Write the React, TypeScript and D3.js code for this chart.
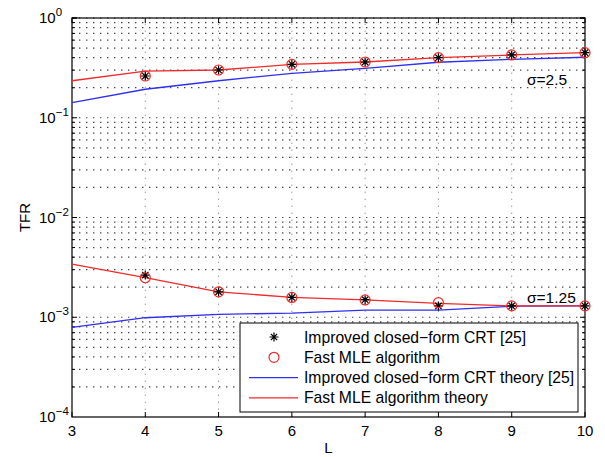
import React, { useEffect, useRef } from 'react';
import * as d3 from 'd3';

// L values for theory curves and for simulated points
const theoryL = [3, 4, 5, 6, 7, 8, 9, 10];
const simL = [4, 5, 6, 7, 8, 9, 10];

// sigma = 2.5
const mleTheoryHi = [0.235, 0.294, 0.301, 0.343, 0.362, 0.4, 0.426, 0.449];
const crtTheoryHi = [0.1415, 0.193, 0.235, 0.279, 0.313, 0.36, 0.385, 0.404];
const crtSimHi = [0.262, 0.301, 0.343, 0.362, 0.4, 0.426, 0.449];
const mleSimHi = [0.262, 0.301, 0.343, 0.362, 0.4, 0.426, 0.449];

// sigma = 1.25
const mleTheoryLo = [3.4e-3, 2.49e-3, 1.8e-3, 1.58e-3, 1.49e-3, 1.38e-3, 1.3e-3, 1.3e-3];
const crtTheoryLo = [7.93e-4, 9.89e-4, 1.07e-3, 1.1e-3, 1.18e-3, 1.18e-3, 1.29e-3, 1.3e-3];
const crtSimLo = [2.65e-3, 1.8e-3, 1.58e-3, 1.5e-3, 1.3e-3, 1.3e-3, 1.3e-3];
const mleSimLo = [2.49e-3, 1.8e-3, 1.58e-3, 1.49e-3, 1.4e-3, 1.3e-3, 1.3e-3];

const xTicks = [3, 4, 5, 6, 7, 8, 9, 10];
const yDecades = [-4, -3, -2, -1, 0];
const legendLabels = [
  'Improved closed\u2212form CRT [25]',
  'Fast MLE algorithm',
  'Improved closed\u2212form CRT theory [25]',
  'Fast MLE algorithm theory',
];
const sigmaLabels = ['\u03c3=2.5', '\u03c3=1.25'];

const RED = '#ee2a2a';
const BLUE = '#2f2fee';
const FONT = 'Liberation Sans, Arial, Helvetica, sans-serif';

const TfrChart = () => {
  const svgRef = useRef<SVGSVGElement>(null);

  useEffect(() => {
    document.body.style.margin = '0';
    const svg = d3.select(svgRef.current);
    svg.selectAll('*').remove();

    const width = 605;
    const height = 457;
    const margin = { top: 18, right: 20, bottom: 40, left: 72 };

    const x = d3.scaleLinear().domain([3, 10]).range([margin.left, width - margin.right]);
    const y = d3.scaleLog().domain([1e-4, 1]).range([height - margin.bottom, margin.top]);
    const [x0, x1] = x.range();
    const [y0, y1] = y.range();

    svg.append('rect').attr('width', width).attr('height', height).attr('fill', '#fff');

    // minor + major horizontal grid
    const hGrid: number[] = [];
    yDecades.forEach((d) => {
      for (let m = 1; m <= 9; m++) {
        const v = m * Math.pow(10, d);
        if (v <= 1 && v > 1e-4) hGrid.push(v);
      }
    });
    svg.append('g').selectAll('line').data(hGrid).join('line')
      .attr('x1', x0).attr('x2', x1)
      .attr('y1', (d) => y(d)).attr('y2', (d) => y(d))
      .attr('stroke', '#444').attr('stroke-width', 1.2)
      .attr('stroke-dasharray', '1.4,5.6');

    svg.append('g').selectAll('line').data(xTicks.slice(1, -1)).join('line')
      .attr('x1', (d) => x(d)).attr('x2', (d) => x(d))
      .attr('y1', y0).attr('y2', y1)
      .attr('stroke', '#999').attr('stroke-width', 1)
      .attr('stroke-dasharray', '1.4,5.6');

    // axes box
    svg.append('rect')
      .attr('x', x0).attr('y', y1).attr('width', x1 - x0).attr('height', y0 - y1)
      .attr('fill', 'none').attr('stroke', '#000').attr('stroke-width', 1.2);

    // x ticks (inward, top and bottom)
    const tk = svg.append('g').attr('stroke', '#000').attr('stroke-width', 1);
    xTicks.forEach((t) => {
      tk.append('line').attr('x1', x(t)).attr('x2', x(t)).attr('y1', y0).attr('y2', y0 - 5);
      tk.append('line').attr('x1', x(t)).attr('x2', x(t)).attr('y1', y1).attr('y2', y1 + 5);
    });
    // y ticks (major + minor)
    hGrid.concat([1]).forEach((v) => {
      const major = Math.abs(Math.log10(v) - Math.round(Math.log10(v))) < 1e-9;
      const len = major ? 5 : 3;
      tk.append('line').attr('x1', x0).attr('x2', x0 + len).attr('y1', y(v)).attr('y2', y(v));
      tk.append('line').attr('x1', x1).attr('x2', x1 - len).attr('y1', y(v)).attr('y2', y(v));
    });

    // tick labels
    svg.append('g').selectAll('text').data(xTicks).join('text')
      .attr('x', (d) => x(d)).attr('y', y0 + 19)
      .attr('text-anchor', 'middle')
      .attr('font-family', FONT).attr('font-size', 15)
      .text((d) => d);

    const yl = svg.append('g').attr('font-family', FONT).attr('font-size', 15);
    yDecades.forEach((d) => {
      const t = yl.append('text').attr('x', x0 - 33).attr('y', y(Math.pow(10, d)) + 5);
      t.append('tspan').text('10');
      t.append('tspan').attr('dy', -7).attr('font-size', 11.5)
        .text(d === 0 ? '0' : `\u2212${-d}`);
    });

    svg.append('text')
      .attr('transform', `translate(30,${(y0 + y1) / 2}) rotate(-90)`)
      .attr('text-anchor', 'middle')
      .attr('font-family', FONT).attr('font-size', 15)
      .text('TFR');
    svg.append('text')
      .attr('x', (x0 + x1) / 2).attr('y', 453)
      .attr('text-anchor', 'middle')
      .attr('font-family', FONT).attr('font-size', 15)
      .text('L');

    // curves
    const line = d3.line<[number, number]>().x((d) => x(d[0])).y((d) => y(d[1]));
    const drawLine = (vals: number[], color: string) => {
      svg.append('path')
        .datum(theoryL.map((l, i) => [l, vals[i]] as [number, number]))
        .attr('fill', 'none').attr('stroke', color).attr('stroke-width', 1.3)
        .attr('d', line);
    };
    drawLine(crtTheoryHi, BLUE);
    drawLine(mleTheoryHi, RED);
    drawLine(crtTheoryLo, BLUE);
    drawLine(mleTheoryLo, RED);

    const star = (g: d3.Selection<SVGGElement, unknown, null, undefined>, cx: number, cy: number, r: number) => {
      const a = r * Math.SQRT1_2;
      const p = `M${cx - r},${cy}L${cx + r},${cy}M${cx},${cy - r}L${cx},${cy + r}` +
        `M${cx - a},${cy - a}L${cx + a},${cy + a}M${cx - a},${cy + a}L${cx + a},${cy - a}`;
      g.append('path').attr('d', p).attr('stroke', '#000').attr('stroke-width', 1.2).attr('fill', 'none');
    };
    const circle = (g: d3.Selection<SVGGElement, unknown, null, undefined>, cx: number, cy: number) => {
      g.append('circle').attr('cx', cx).attr('cy', cy).attr('r', 5)
        .attr('fill', 'none').attr('stroke', RED).attr('stroke-width', 1.2);
    };

    const marks = svg.append('g');
    [crtSimHi, crtSimLo].forEach((vals) =>
      vals.forEach((v, i) => star(marks, x(simL[i]), y(v), 4.5)));
    [mleSimHi, mleSimLo].forEach((vals) =>
      vals.forEach((v, i) => circle(marks, x(simL[i]), y(v))));

    // sigma labels
    svg.append('text').attr('x', 527).attr('y', 85)
      .attr('font-family', FONT).attr('font-size', 15.5).text(sigmaLabels[0]);
    svg.append('text').attr('x', 527).attr('y', 303)
      .attr('font-family', FONT).attr('font-size', 15.5).text(sigmaLabels[1]);

    // legend
    const lg = svg.append('g').attr('transform', 'translate(240,323)');
    lg.append('rect').attr('width', 338).attr('height', 89)
      .attr('fill', '#fff').attr('stroke', '#000').attr('stroke-width', 1);
    legendLabels.forEach((lab, i) => {
      const cy = 14 + i * 20.3;
      if (i === 0) star(lg, 34, cy, 4.5);
      if (i === 1) circle(lg, 34, cy);
      if (i >= 2) {
        lg.append('line').attr('x1', 9).attr('x2', 58).attr('y1', cy).attr('y2', cy)
          .attr('stroke', i === 2 ? BLUE : RED).attr('stroke-width', 1.3);
      }
      lg.append('text').attr('x', 64).attr('y', cy + 5.5)
        .attr('font-family', FONT).attr('font-size', 15.7).text(lab);
    });
  }, []);

  return <svg ref={svgRef} width={605} height={457} style={{ display: 'block' }} />;
};

export default function App() {
  return <TfrChart />;
}
